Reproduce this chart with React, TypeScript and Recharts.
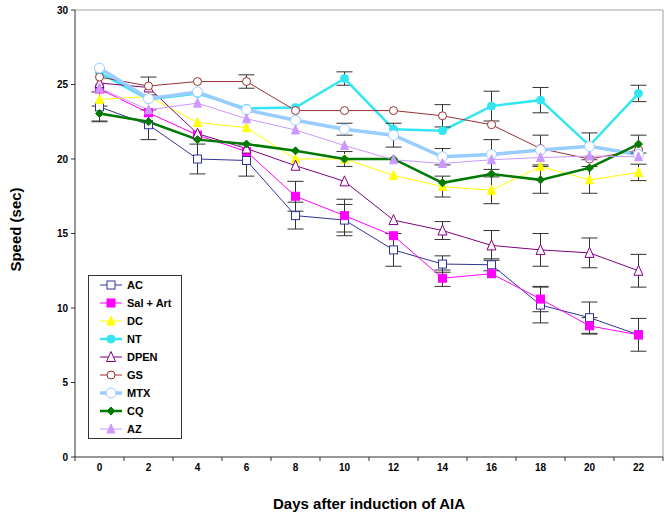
import React from 'react';
import { LineChart, Line, XAxis, YAxis, ErrorBar, Legend, ReferenceLine, Label } from 'recharts';

// days after induction
const days = [0, 2, 4, 6, 8, 10, 12, 14, 16, 18, 20, 22];

// mean speed (sec) per group, with SEM (0 = no bar drawn)
const ac = [23.5, 22.3, 20.0, 19.9, 16.2, 15.9, 13.9, 12.95, 12.9, 10.2, 9.35, 8.2];
const acErr = [1.0, 1.0, 1.0, 1.05, 0.9, 1.05, 1.1, 0.55, 0.4, 1.2, 1.05, 1.1];
const salArt = [24.7, 23.1, 21.6, 20.5, 17.5, 16.2, 14.85, 12.0, 12.3, 10.6, 8.8, 8.2];
const salArtErr = [0, 0, 0, 0, 1.0, 1.1, 0, 0.55, 0, 0.85, 0.55, 0];
const dc = [24.0, 24.2, 22.45, 22.1, 20.0, 20.0, 18.9, 18.15, 17.9, 19.5, 18.6, 19.1];
const dcErr = [0, 0, 0, 0, 0, 0, 0, 0.7, 0.9, 0, 0.9, 0.55];
const nt = [25.8, 24.0, 24.4, 23.4, 23.45, 25.4, 22.0, 21.9, 23.55, 23.95, 20.9, 24.4];
const ntErr = [0, 0, 0, 0, 0, 0.45, 0, 0, 1.0, 0.85, 0, 0.55];
const dpen = [25.1, 24.8, 21.7, 20.7, 19.55, 18.5, 15.9, 15.2, 14.2, 13.9, 13.7, 12.5];
const dpenErr = [0, 0, 0, 0, 0, 0, 0, 0.6, 1.0, 1.1, 1.0, 1.1];
const gs = [25.5, 24.9, 25.2, 25.2, 23.25, 23.25, 23.25, 22.9, 22.3, 20.7, 20.0, 20.6];
const gsErr = [0, 0.6, 0, 0.45, 0, 0, 0, 0.75, 0, 0, 0, 0];
const mtx = [26.1, 24.05, 24.5, 23.3, 22.6, 22.0, 21.6, 20.15, 20.3, 20.6, 20.85, 20.3];
const mtxErr = [0, 0, 0, 0, 0, 0.4, 0.8, 0.55, 1.0, 1.0, 0.9, 0];
const cq = [23.05, 22.5, 21.3, 21.0, 20.55, 20.0, 20.0, 18.4, 19.0, 18.6, 19.4, 21.0];
const cqErr = [0.5, 0, 0, 0, 0, 0.5, 0, 0, 0, 0.9, 0, 0.6];
const az = [24.75, 23.3, 23.75, 22.7, 21.95, 20.9, 19.95, 19.7, 19.95, 20.1, 20.2, 20.15];

const yTicks = [0, 5, 10, 15, 20, 25, 30];
// odd days are the category boundaries where the tick marks sit
const xTicks = [-1, 0, 1, 2, 3, 4, 5, 6, 7, 8, 9, 10, 11, 12, 13, 14, 15, 16, 17, 18, 19, 20, 21, 22, 23];

type Shape = 'square' | 'circle' | 'triangle' | 'diamond';

const series = [
  { key: 'ac', name: 'AC', values: ac, err: acErr, color: '#333399', width: 1, shape: 'square' as Shape, fill: '#fff', size: 8 },
  { key: 'salArt', name: 'Sal + Art', values: salArt, err: salArtErr, color: '#ff00ff', width: 1, shape: 'square' as Shape, fill: '#ff00ff', size: 8 },
  { key: 'dc', name: 'DC', values: dc, err: dcErr, color: '#ffff00', width: 1, shape: 'triangle' as Shape, fill: '#ffff00', size: 8 },
  { key: 'nt', name: 'NT', values: nt, err: ntErr, color: '#33e6f2', width: 2.5, shape: 'circle' as Shape, fill: '#33e6f2', size: 8 },
  { key: 'dpen', name: 'DPEN', values: dpen, err: dpenErr, color: '#800080', width: 1, shape: 'triangle' as Shape, fill: '#fff', size: 9 },
  { key: 'gs', name: 'GS', values: gs, err: gsErr, color: '#993333', width: 1, shape: 'circle' as Shape, fill: '#fff', size: 8 },
  { key: 'mtx', name: 'MTX', values: mtx, err: mtxErr, color: '#99ccff', width: 3.5, shape: 'circle' as Shape, fill: '#fff', size: 10 },
  { key: 'cq', name: 'CQ', values: cq, err: cqErr, color: '#007a00', width: 2.5, shape: 'diamond' as Shape, fill: '#007a00', size: 8 },
  { key: 'az', name: 'AZ', values: az, err: null, color: '#cc99ff', width: 1, shape: 'triangle' as Shape, fill: '#cc99ff', size: 8 },
];

const data = days.map((day, i) => {
  const row: Record<string, number> = { day };
  series.forEach((s) => {
    row[s.key] = s.values[i];
    if (s.err) row[s.key + 'Err'] = s.err[i];
  });
  return row;
});

function Marker({ shape, cx, cy, size, fill, stroke }: { shape: Shape; cx: number; cy: number; size: number; fill: string; stroke: string }) {
  const h = size / 2;
  if (shape === 'square') {
    return <rect x={cx - h} y={cy - h} width={size} height={size} fill={fill} stroke={stroke} strokeWidth={1} />;
  }
  if (shape === 'circle') {
    return <circle cx={cx} cy={cy} r={h} fill={fill} stroke={stroke} strokeWidth={1} />;
  }
  if (shape === 'triangle') {
    return (
      <polygon
        points={`${cx},${cy - h - 1} ${cx + h},${cy + h} ${cx - h},${cy + h}`}
        fill={fill}
        stroke={stroke}
        strokeWidth={1}
      />
    );
  }
  return <polygon points={`${cx},${cy - h} ${cx + h},${cy} ${cx},${cy + h} ${cx - h},${cy}`} fill={fill} stroke={stroke} strokeWidth={1} />;
}

const XTick = (props: any) => {
  const { x, y, payload } = props;
  const v = payload.value;
  if (v % 2 !== 0) {
    return <line x1={x} x2={x} y1={y - 4} y2={y} stroke="#333" strokeWidth={1} />;
  }
  return (
    <text x={x} y={y + 10} textAnchor="middle" fontSize={10} fontWeight="bold" fill="#000" fontFamily="Arial, 'Liberation Sans', sans-serif">
      {v}
    </text>
  );
};

const LegendBox = () => (
  <div
    style={{
      border: '1px solid #333',
      background: '#fff',
      width: 94,
      boxSizing: 'border-box',
      fontFamily: "Arial, 'Liberation Sans', sans-serif",
      fontSize: 11,
      fontWeight: 'bold',
      color: '#000',
    }}
  >
    {series.map((s) => (
      <div key={s.key} style={{ display: 'flex', alignItems: 'center', height: 18, paddingLeft: 11 }}>
        <svg width={22} height={14} style={{ marginRight: 5 }}>
          <line x1={0} x2={22} y1={7} y2={7} stroke={s.color} strokeWidth={s.width} />
          <Marker shape={s.shape} cx={11} cy={7} size={s.size} fill={s.fill} stroke={s.color} />
        </svg>
        <span style={{ whiteSpace: 'nowrap' }}>{s.name}</span>
      </div>
    ))}
  </div>
);

export default function App() {
  return (
    <div style={{ position: 'absolute', left: 0, top: 0, background: '#fff' }}>
      <LineChart width={669} height={516} data={data} margin={{ top: 10, right: 6, bottom: 0, left: 0 }}>
        <XAxis
          dataKey="day"
          type="number"
          domain={[-1, 23]}
          ticks={xTicks}
          interval={0}
          tick={<XTick />}
          tickLine={false}
          tickSize={4}
          tickMargin={0}
          height={59}
          axisLine={{ stroke: '#333' }}
        >
          <Label
            content={(p: any) => (
              <text
                x={p.viewBox.x + p.viewBox.width / 2}
                y={p.viewBox.y + 52}
                textAnchor="middle"
                fontSize={15}
                fontWeight="bold"
                fill="#000"
                fontFamily="Arial, 'Liberation Sans', sans-serif"
              >
                Days after induction of AIA
              </text>
            )}
          />
        </XAxis>
        <YAxis
          type="number"
          domain={[0, 30]}
          ticks={yTicks}
          width={75}
          tickSize={4}
          tickMargin={3}
          axisLine={{ stroke: '#333' }}
          tickLine={{ stroke: '#333' }}
          tick={{ fontSize: 10, fontWeight: 'bold', fill: '#000', fontFamily: "Arial, 'Liberation Sans', sans-serif" }}
        >
          <Label
            content={(p: any) => {
              const cx = 15;
              const cy = p.viewBox.y + p.viewBox.height / 2 - 4;
              return (
                <text
                  x={cx}
                  y={cy}
                  transform={`rotate(-90, ${cx}, ${cy})`}
                  textAnchor="middle"
                  dominantBaseline="central"
                  fontSize={15}
                  fontWeight="bold"
                  fill="#000"
                  fontFamily="Arial, 'Liberation Sans', sans-serif"
                >
                  Speed (sec)
                </text>
              );
            }}
          />
        </YAxis>
        <ReferenceLine y={30} stroke="#a0a0a0" strokeWidth={1} />
        <ReferenceLine x={23} stroke="#a0a0a0" strokeWidth={1} />
        <Legend
          content={<LegendBox />}
          layout="vertical"
          align="center"
          verticalAlign="middle"
          wrapperStyle={{ left: 88, top: 275, width: 94, height: 163 }}
        />
        {series.map((s) => (
          <Line
            key={s.key}
            dataKey={s.key}
            name={s.name}
            type="linear"
            stroke={s.color}
            strokeWidth={s.width}
            isAnimationActive={false}
            activeDot={false}
            dot={(p: any) => {
              if (p.cx == null || p.cy == null) return <g key={`${s.key}-${p.index}`} />;
              return (
                <g key={`${s.key}-${p.index}`}>
                  <Marker shape={s.shape} cx={p.cx} cy={p.cy} size={s.size} fill={s.fill} stroke={s.color} />
                </g>
              );
            }}
          >
            {s.err && <ErrorBar dataKey={s.key + 'Err'} width={8} stroke="#333" strokeWidth={1} direction="y" />}
          </Line>
        ))}
      </LineChart>
    </div>
  );
}
